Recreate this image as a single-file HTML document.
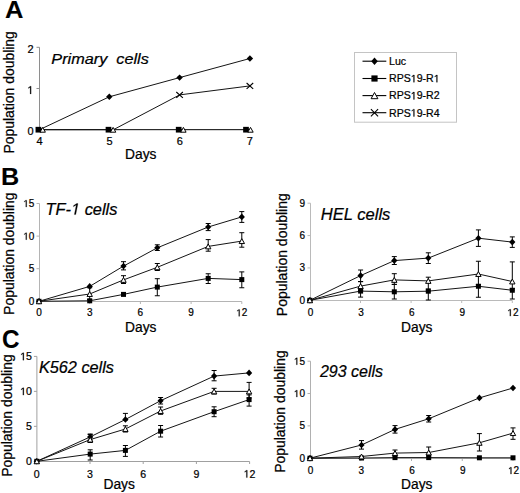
<!DOCTYPE html>
<html><head><meta charset="utf-8"><style>
html,body{margin:0;padding:0;background:#fff;}
body{width:520px;height:493px;overflow:hidden;}
svg{display:block;}
text{stroke:#000;stroke-width:0.22px;}
text[font-weight="bold"]{stroke-width:0.1px;}
</style></head><body>
<svg width="520" height="493" viewBox="0 0 520 493" font-family='"Liberation Sans", sans-serif' fill="#000">
<rect width="520" height="493" fill="#fff"/>
<text transform="translate(5.00 18.10) scale(1.04 1)" font-size="24.5" text-anchor="start" font-weight="bold">A</text>
<path d="M39.50 47.30V129.50" stroke="#8e8e8e" stroke-width="1" fill="none"/>
<path d="M36.50 129.70H39.50" stroke="#8e8e8e" stroke-width="1"/>
<text x="27.38" y="135.10" font-size="11" xml:space="preserve">0</text>
<path d="M36.50 88.50H39.50" stroke="#8e8e8e" stroke-width="1"/>
<path transform="translate(27.38 93.90) scale(0.00537 -0.00537)" d="M515 0L515 1237L197 1010L197 1180L530 1409L696 1409L696 0Z" fill="#000" stroke="#000" stroke-width="41.0"/>
<path d="M36.50 47.30H39.50" stroke="#8e8e8e" stroke-width="1"/>
<text x="27.38" y="52.70" font-size="11" xml:space="preserve">2</text>
<path d="M39.50 129.50H249.80" stroke="#8e8e8e" stroke-width="1" fill="none"/>
<path d="M39.50 129.50V132.00" stroke="#8e8e8e" stroke-width="1"/>
<text x="36.44" y="144.80" font-size="11" xml:space="preserve">4</text>
<path d="M109.60 129.50V132.00" stroke="#8e8e8e" stroke-width="1"/>
<text x="106.54" y="144.80" font-size="11" xml:space="preserve">5</text>
<path d="M179.70 129.50V132.00" stroke="#8e8e8e" stroke-width="1"/>
<text x="176.64" y="144.80" font-size="11" xml:space="preserve">6</text>
<path d="M249.80 129.50V132.00" stroke="#8e8e8e" stroke-width="1"/>
<text x="246.74" y="144.80" font-size="11" xml:space="preserve">7</text>
<text x="140.80" y="158.50" font-size="13.8" text-anchor="middle" font-weight="normal">Days</text>
<text transform="translate(13.70 153.60) rotate(-90) scale(1.0 1)" font-size="13.95">Population doubling</text>
<text transform="translate(51.30 63.90) scale(1.07 1)" font-size="15.2" text-anchor="start" font-weight="normal" font-style="italic">Primary&#160; cells</text>
<path d="M39.50 129.70L250.50 129.70" stroke="#151515" stroke-width="1.0" fill="none"/>
<path d="M39.50 129.70L109.30 96.80L179.60 77.60L249.90 58.50" stroke="#151515" stroke-width="1.0" fill="none"/>
<path d="M39.50 129.70L113.40 129.70L179.60 94.90L249.90 85.90" stroke="#151515" stroke-width="1.0" fill="none"/>
<rect x="35.55" y="126.85" width="5.70" height="5.70" fill="#000"/>
<path d="M42.70 127.40L45.40 132.20L40.00 132.20Z" fill="#fff" stroke="#000" stroke-width="1.0"/>
<rect x="105.65" y="126.85" width="5.70" height="5.70" fill="#000"/>
<path d="M113.10 127.40L115.80 132.20L110.40 132.20Z" fill="#fff" stroke="#000" stroke-width="1.0"/>
<rect x="175.85" y="126.85" width="5.70" height="5.70" fill="#000"/>
<path d="M183.40 127.40L186.10 132.20L180.70 132.20Z" fill="#fff" stroke="#000" stroke-width="1.0"/>
<rect x="243.15" y="126.85" width="5.70" height="5.70" fill="#000"/>
<path d="M250.50 127.40L253.20 132.20L247.80 132.20Z" fill="#fff" stroke="#000" stroke-width="1.0"/>
<path d="M109.30 93.60L112.50 96.80L109.30 100.00L106.10 96.80Z" fill="#000"/>
<path d="M179.60 74.40L182.80 77.60L179.60 80.80L176.40 77.60Z" fill="#000"/>
<path d="M249.90 55.30L253.10 58.50L249.90 61.70L246.70 58.50Z" fill="#000"/>
<path d="M176.30 92.00L182.90 97.80M182.90 92.00L176.30 97.80" stroke="#000" stroke-width="1.1" fill="none"/>
<path d="M246.60 83.00L253.20 88.80M253.20 83.00L246.60 88.80" stroke="#000" stroke-width="1.1" fill="none"/>
<rect x="354.5" y="52.5" width="102" height="69.7" fill="#fff" stroke="#c4c4c4" stroke-width="1"/>
<path d="M362.5 61.20H386.3" stroke="#000" stroke-width="1.1"/>
<path d="M374.50 57.50L377.80 61.20L374.50 64.90L371.20 61.20Z" fill="#000"/>
<text x="389.00" y="65.00" font-size="10.6" xml:space="preserve">Luc</text>
<path d="M362.5 78.50H386.3" stroke="#000" stroke-width="1.1"/>
<rect x="371.40" y="75.40" width="6.20" height="6.20" fill="#000"/>
<text x="389.00" y="82.30" font-size="10.6" xml:space="preserve">RPS</text>
<path transform="translate(410.80 82.30) scale(0.00518 -0.00518)" d="M515 0L515 1237L197 1010L197 1180L530 1409L696 1409L696 0Z" fill="#000" stroke="#000" stroke-width="42.5"/>
<text x="416.69" y="82.30" font-size="10.6" xml:space="preserve">9-R</text>
<path transform="translate(433.77 82.30) scale(0.00518 -0.00518)" d="M515 0L515 1237L197 1010L197 1180L530 1409L696 1409L696 0Z" fill="#000" stroke="#000" stroke-width="42.5"/>
<path d="M362.5 95.60H386.3" stroke="#000" stroke-width="1.1"/>
<path d="M374.50 92.50L377.90 98.70L371.10 98.70Z" fill="#fff" stroke="#000" stroke-width="1.0"/>
<text x="389.00" y="99.40" font-size="10.6" xml:space="preserve">RPS</text>
<path transform="translate(410.80 99.40) scale(0.00518 -0.00518)" d="M515 0L515 1237L197 1010L197 1180L530 1409L696 1409L696 0Z" fill="#000" stroke="#000" stroke-width="42.5"/>
<text x="416.69" y="99.40" font-size="10.6" xml:space="preserve">9-R2</text>
<path d="M362.5 112.70H386.3" stroke="#000" stroke-width="1.1"/>
<path d="M370.90 109.10L378.10 116.30M378.10 109.10L370.90 116.30" stroke="#000" stroke-width="1.1" fill="none"/>
<text x="389.00" y="116.50" font-size="10.6" xml:space="preserve">RPS</text>
<path transform="translate(410.80 116.50) scale(0.00518 -0.00518)" d="M515 0L515 1237L197 1010L197 1180L530 1409L696 1409L696 0Z" fill="#000" stroke="#000" stroke-width="42.5"/>
<text x="416.69" y="116.50" font-size="10.6" xml:space="preserve">9-R4</text>
<text transform="translate(1.00 184.70) scale(1.03 1)" font-size="24.5" text-anchor="start" font-weight="bold">B</text>
<path d="M39.50 203.50V301.50" stroke="#b4b4b4" stroke-width="1" fill="none"/>
<path d="M36.50 301.30H39.50" stroke="#b4b4b4" stroke-width="1"/>
<text x="28.84" y="304.85" font-size="10.0" xml:space="preserve">0</text>
<path d="M36.50 268.70H39.50" stroke="#b4b4b4" stroke-width="1"/>
<text x="28.84" y="272.25" font-size="10.0" xml:space="preserve">5</text>
<path d="M36.50 236.10H39.50" stroke="#b4b4b4" stroke-width="1"/>
<path transform="translate(23.28 239.65) scale(0.00488 -0.00488)" d="M515 0L515 1237L197 1010L197 1180L530 1409L696 1409L696 0Z" fill="#000" stroke="#000" stroke-width="45.1"/>
<text x="28.84" y="239.65" font-size="10.0" xml:space="preserve">0</text>
<path d="M36.50 203.50H39.50" stroke="#b4b4b4" stroke-width="1"/>
<path transform="translate(23.28 207.05) scale(0.00488 -0.00488)" d="M515 0L515 1237L197 1010L197 1180L530 1409L696 1409L696 0Z" fill="#000" stroke="#000" stroke-width="45.1"/>
<text x="28.84" y="207.05" font-size="10.0" xml:space="preserve">5</text>
<path d="M39.50 301.50H241.80" stroke="#b4b4b4" stroke-width="1" fill="none"/>
<path d="M39.00 301.50V304.00" stroke="#b4b4b4" stroke-width="1"/>
<text x="36.22" y="316.30" font-size="10.0" xml:space="preserve">0</text>
<path d="M89.70 301.50V304.00" stroke="#b4b4b4" stroke-width="1"/>
<text x="86.92" y="316.30" font-size="10.0" xml:space="preserve">3</text>
<path d="M140.40 301.50V304.00" stroke="#b4b4b4" stroke-width="1"/>
<text x="137.62" y="316.30" font-size="10.0" xml:space="preserve">6</text>
<path d="M191.10 301.50V304.00" stroke="#b4b4b4" stroke-width="1"/>
<text x="188.32" y="316.30" font-size="10.0" xml:space="preserve">9</text>
<path d="M241.80 301.50V304.00" stroke="#b4b4b4" stroke-width="1"/>
<path transform="translate(236.24 316.30) scale(0.00488 -0.00488)" d="M515 0L515 1237L197 1010L197 1180L530 1409L696 1409L696 0Z" fill="#000" stroke="#000" stroke-width="45.1"/>
<text x="241.80" y="316.30" font-size="10.0" xml:space="preserve">2</text>
<text x="140.80" y="331.50" font-size="13.8" text-anchor="middle" font-weight="normal">Days</text>
<text transform="translate(13.80 314.90) rotate(-90) scale(1.0 1)" font-size="13.95">Population doubling</text>
<text transform="translate(45.60 214.60) scale(1.023 1)" font-size="16" font-style="italic" xml:space="preserve">TF-</text>
<g transform="translate(71.05 214.60) scale(1.023 1)">
<path transform="translate(0.00 0.00) scale(0.00781 -0.00781)" d="M412 0L650 1223L289 1000L324 1180L701 1409L867 1409L593 0Z" fill="#000" stroke="#000" stroke-width="28.2"/>
</g>
<text transform="translate(80.15 214.60) scale(1.023 1)" font-size="16" font-style="italic" xml:space="preserve"> cells</text>
<path d="M123.50 261.70V269.90M121.00 261.70H126.00M121.00 269.90H126.00" stroke="#000" stroke-width="1" fill="none"/>
<path d="M157.30 244.80V250.50M154.80 244.80H159.80M154.80 250.50H159.80" stroke="#000" stroke-width="1" fill="none"/>
<path d="M208.20 223.50V230.60M205.70 223.50H210.70M205.70 230.60H210.70" stroke="#000" stroke-width="1" fill="none"/>
<path d="M241.80 211.60V222.40M239.30 211.60H244.30M239.30 222.40H244.30" stroke="#000" stroke-width="1" fill="none"/>
<path d="M39.00 301.30L89.70 286.40L123.50 266.10L157.30 247.80L208.20 227.00L241.80 216.90" stroke="#151515" stroke-width="1.0" fill="none"/>
<path d="M39.00 298.00L42.10 301.30L39.00 304.60L35.90 301.30Z" fill="#000"/>
<path d="M89.70 283.10L92.80 286.40L89.70 289.70L86.60 286.40Z" fill="#000"/>
<path d="M123.50 262.80L126.60 266.10L123.50 269.40L120.40 266.10Z" fill="#000"/>
<path d="M157.30 244.50L160.40 247.80L157.30 251.10L154.20 247.80Z" fill="#000"/>
<path d="M208.20 223.70L211.30 227.00L208.20 230.30L205.10 227.00Z" fill="#000"/>
<path d="M241.80 213.60L244.90 216.90L241.80 220.20L238.70 216.90Z" fill="#000"/>
<path d="M157.30 278.70V295.75M154.80 278.70H159.80M154.80 295.75H159.80" stroke="#000" stroke-width="1" fill="none"/>
<path d="M208.20 273.75V283.50M205.70 273.75H210.70M205.70 283.50H210.70" stroke="#000" stroke-width="1" fill="none"/>
<path d="M241.80 271.90V287.75M239.30 271.90H244.30M239.30 287.75H244.30" stroke="#000" stroke-width="1" fill="none"/>
<path d="M39.00 301.30L89.70 300.80L123.50 294.40L157.30 287.10L208.20 278.40L241.80 279.60" stroke="#151515" stroke-width="1.0" fill="none"/>
<rect x="36.50" y="298.80" width="5.00" height="5.00" fill="#000"/>
<rect x="87.20" y="298.30" width="5.00" height="5.00" fill="#000"/>
<rect x="121.00" y="291.90" width="5.00" height="5.00" fill="#000"/>
<rect x="154.80" y="284.60" width="5.00" height="5.00" fill="#000"/>
<rect x="205.70" y="275.90" width="5.00" height="5.00" fill="#000"/>
<rect x="239.30" y="277.10" width="5.00" height="5.00" fill="#000"/>
<path d="M89.70 287.80V299.50M87.20 287.80H92.20M87.20 299.50H92.20" stroke="#000" stroke-width="1" fill="none"/>
<path d="M123.50 275.70V283.50M121.00 275.70H126.00M121.00 283.50H126.00" stroke="#000" stroke-width="1" fill="none"/>
<path d="M157.30 263.50V270.50M154.80 263.50H159.80M154.80 270.50H159.80" stroke="#000" stroke-width="1" fill="none"/>
<path d="M208.20 239.60V251.20M205.70 239.60H210.70M205.70 251.20H210.70" stroke="#000" stroke-width="1" fill="none"/>
<path d="M241.80 232.70V247.20M239.30 232.70H244.30M239.30 247.20H244.30" stroke="#000" stroke-width="1" fill="none"/>
<path d="M39.00 301.30L89.70 294.00L123.50 279.90L157.30 267.30L208.20 246.40L241.80 241.10" stroke="#151515" stroke-width="1.0" fill="none"/>
<path d="M39.00 298.85L41.70 303.75L36.30 303.75Z" fill="#fff" stroke="#000" stroke-width="1.0"/>
<path d="M89.70 291.55L92.40 296.45L87.00 296.45Z" fill="#fff" stroke="#000" stroke-width="1.0"/>
<path d="M123.50 277.45L126.20 282.35L120.80 282.35Z" fill="#fff" stroke="#000" stroke-width="1.0"/>
<path d="M157.30 264.85L160.00 269.75L154.60 269.75Z" fill="#fff" stroke="#000" stroke-width="1.0"/>
<path d="M208.20 243.95L210.90 248.85L205.50 248.85Z" fill="#fff" stroke="#000" stroke-width="1.0"/>
<path d="M241.80 238.65L244.50 243.55L239.10 243.55Z" fill="#fff" stroke="#000" stroke-width="1.0"/>
<path d="M310.50 203.20V300.50" stroke="#bababa" stroke-width="1" fill="none"/>
<path d="M307.50 300.30H310.50" stroke="#bababa" stroke-width="1"/>
<text x="299.54" y="303.85" font-size="10.0" xml:space="preserve">0</text>
<path d="M307.50 267.93H310.50" stroke="#bababa" stroke-width="1"/>
<text x="299.54" y="271.48" font-size="10.0" xml:space="preserve">3</text>
<path d="M307.50 235.57H310.50" stroke="#bababa" stroke-width="1"/>
<text x="299.54" y="239.12" font-size="10.0" xml:space="preserve">6</text>
<path d="M307.50 203.20H310.50" stroke="#bababa" stroke-width="1"/>
<text x="299.54" y="206.75" font-size="10.0" xml:space="preserve">9</text>
<path d="M310.50 300.50H512.30" stroke="#bababa" stroke-width="1" fill="none"/>
<path d="M309.90 300.50V303.00" stroke="#bababa" stroke-width="1"/>
<text x="307.72" y="316.10" font-size="10.0" xml:space="preserve">0</text>
<path d="M360.50 300.50V303.00" stroke="#bababa" stroke-width="1"/>
<text x="358.32" y="316.10" font-size="10.0" xml:space="preserve">3</text>
<path d="M411.10 300.50V303.00" stroke="#bababa" stroke-width="1"/>
<text x="408.92" y="316.10" font-size="10.0" xml:space="preserve">6</text>
<path d="M461.70 300.50V303.00" stroke="#bababa" stroke-width="1"/>
<text x="459.52" y="316.10" font-size="10.0" xml:space="preserve">9</text>
<path d="M512.30 300.50V303.00" stroke="#bababa" stroke-width="1"/>
<path transform="translate(507.34 316.10) scale(0.00488 -0.00488)" d="M515 0L515 1237L197 1010L197 1180L530 1409L696 1409L696 0Z" fill="#000" stroke="#000" stroke-width="45.1"/>
<text x="512.90" y="316.10" font-size="10.0" xml:space="preserve">2</text>
<text x="416.80" y="331.50" font-size="13.8" text-anchor="middle" font-weight="normal">Days</text>
<text transform="translate(287.30 316.20) rotate(-90) scale(1.0 1)" font-size="14.0">Population doubling</text>
<text transform="translate(320.80 220.00) scale(1.035 1)" font-size="16" text-anchor="start" font-weight="normal" font-style="italic">HEL cells</text>
<path d="M360.60 270.00V281.50M358.10 270.00H363.10M358.10 281.50H363.10" stroke="#000" stroke-width="1" fill="none"/>
<path d="M394.30 256.60V264.50M391.80 256.60H396.80M391.80 264.50H396.80" stroke="#000" stroke-width="1" fill="none"/>
<path d="M428.30 252.80V263.50M425.80 252.80H430.80M425.80 263.50H430.80" stroke="#000" stroke-width="1" fill="none"/>
<path d="M478.40 229.90V246.40M475.90 229.90H480.90M475.90 246.40H480.90" stroke="#000" stroke-width="1" fill="none"/>
<path d="M512.30 236.90V247.40M509.80 236.90H514.80M509.80 247.40H514.80" stroke="#000" stroke-width="1" fill="none"/>
<path d="M309.90 300.30L360.60 275.60L394.30 260.60L428.30 258.10L478.40 238.20L512.30 242.10" stroke="#151515" stroke-width="1.0" fill="none"/>
<path d="M309.90 297.00L313.00 300.30L309.90 303.60L306.80 300.30Z" fill="#000"/>
<path d="M360.60 272.30L363.70 275.60L360.60 278.90L357.50 275.60Z" fill="#000"/>
<path d="M394.30 257.30L397.40 260.60L394.30 263.90L391.20 260.60Z" fill="#000"/>
<path d="M428.30 254.80L431.40 258.10L428.30 261.40L425.20 258.10Z" fill="#000"/>
<path d="M478.40 234.90L481.50 238.20L478.40 241.50L475.30 238.20Z" fill="#000"/>
<path d="M512.30 238.80L515.40 242.10L512.30 245.40L509.20 242.10Z" fill="#000"/>
<path d="M360.60 290.00V297.10M358.10 290.00H363.10M358.10 297.10H363.10" stroke="#000" stroke-width="1" fill="none"/>
<path d="M394.30 284.50V299.00M391.80 284.50H396.80M391.80 299.00H396.80" stroke="#000" stroke-width="1" fill="none"/>
<path d="M428.30 289.00V300.00M425.80 289.00H430.80M425.80 300.00H430.80" stroke="#000" stroke-width="1" fill="none"/>
<path d="M478.40 284.50V297.25M475.90 284.50H480.90M475.90 297.25H480.90" stroke="#000" stroke-width="1" fill="none"/>
<path d="M512.30 288.50V299.00M509.80 288.50H514.80M509.80 299.00H514.80" stroke="#000" stroke-width="1" fill="none"/>
<path d="M309.90 300.30L360.60 291.10L394.30 291.80L428.30 291.20L478.40 286.25L512.30 290.25" stroke="#151515" stroke-width="1.0" fill="none"/>
<rect x="307.40" y="297.80" width="5.00" height="5.00" fill="#000"/>
<rect x="358.10" y="288.60" width="5.00" height="5.00" fill="#000"/>
<rect x="391.80" y="289.30" width="5.00" height="5.00" fill="#000"/>
<rect x="425.80" y="288.70" width="5.00" height="5.00" fill="#000"/>
<rect x="475.90" y="283.75" width="5.00" height="5.00" fill="#000"/>
<rect x="509.80" y="287.75" width="5.00" height="5.00" fill="#000"/>
<path d="M360.60 281.70V290.50M358.10 281.70H363.10M358.10 290.50H363.10" stroke="#000" stroke-width="1" fill="none"/>
<path d="M394.30 273.70V284.30M391.80 273.70H396.80M391.80 284.30H396.80" stroke="#000" stroke-width="1" fill="none"/>
<path d="M428.30 277.20V291.00M425.80 277.20H430.80M425.80 291.00H430.80" stroke="#000" stroke-width="1" fill="none"/>
<path d="M478.40 261.25V286.00M475.90 261.25H480.90M475.90 286.00H480.90" stroke="#000" stroke-width="1" fill="none"/>
<path d="M512.30 261.90V290.00M509.80 261.90H514.80M509.80 290.00H514.80" stroke="#000" stroke-width="1" fill="none"/>
<path d="M309.90 300.30L360.60 286.10L394.30 279.90L428.30 280.90L478.40 274.00L512.30 281.50" stroke="#151515" stroke-width="1.0" fill="none"/>
<path d="M309.90 297.85L312.60 302.75L307.20 302.75Z" fill="#fff" stroke="#000" stroke-width="1.0"/>
<path d="M360.60 283.65L363.30 288.55L357.90 288.55Z" fill="#fff" stroke="#000" stroke-width="1.0"/>
<path d="M394.30 277.45L397.00 282.35L391.60 282.35Z" fill="#fff" stroke="#000" stroke-width="1.0"/>
<path d="M428.30 278.45L431.00 283.35L425.60 283.35Z" fill="#fff" stroke="#000" stroke-width="1.0"/>
<path d="M478.40 271.55L481.10 276.45L475.70 276.45Z" fill="#fff" stroke="#000" stroke-width="1.0"/>
<path d="M512.30 279.05L515.00 283.95L509.60 283.95Z" fill="#fff" stroke="#000" stroke-width="1.0"/>
<text transform="translate(1.90 347.60) scale(0.97 1)" font-size="25" text-anchor="start" font-weight="bold">C</text>
<path d="M36.90 356.40V461.50" stroke="#a0a0a0" stroke-width="1" fill="none"/>
<path d="M33.90 461.30H36.90" stroke="#a0a0a0" stroke-width="1"/>
<text x="26.10" y="465.05" font-size="10.6" xml:space="preserve">0</text>
<path d="M33.90 426.33H36.90" stroke="#a0a0a0" stroke-width="1"/>
<text x="26.10" y="430.08" font-size="10.6" xml:space="preserve">5</text>
<path d="M33.90 391.37H36.90" stroke="#a0a0a0" stroke-width="1"/>
<path transform="translate(20.21 395.12) scale(0.00518 -0.00518)" d="M515 0L515 1237L197 1010L197 1180L530 1409L696 1409L696 0Z" fill="#000" stroke="#000" stroke-width="42.5"/>
<text x="26.10" y="395.12" font-size="10.6" xml:space="preserve">0</text>
<path d="M33.90 356.40H36.90" stroke="#a0a0a0" stroke-width="1"/>
<path transform="translate(20.21 360.15) scale(0.00518 -0.00518)" d="M515 0L515 1237L197 1010L197 1180L530 1409L696 1409L696 0Z" fill="#000" stroke="#000" stroke-width="42.5"/>
<text x="26.10" y="360.15" font-size="10.6" xml:space="preserve">5</text>
<path d="M36.90 461.50H249.60" stroke="#a0a0a0" stroke-width="1" fill="none"/>
<path d="M36.80 461.50V464.00" stroke="#a0a0a0" stroke-width="1"/>
<text x="33.85" y="477.60" font-size="10.6" xml:space="preserve">0</text>
<path d="M90.00 461.50V464.00" stroke="#a0a0a0" stroke-width="1"/>
<text x="87.05" y="477.60" font-size="10.6" xml:space="preserve">3</text>
<path d="M143.20 461.50V464.00" stroke="#a0a0a0" stroke-width="1"/>
<text x="140.25" y="477.60" font-size="10.6" xml:space="preserve">6</text>
<path d="M196.40 461.50V464.00" stroke="#a0a0a0" stroke-width="1"/>
<text x="193.45" y="477.60" font-size="10.6" xml:space="preserve">9</text>
<path d="M249.60 461.50V464.00" stroke="#a0a0a0" stroke-width="1"/>
<path transform="translate(243.70 477.60) scale(0.00518 -0.00518)" d="M515 0L515 1237L197 1010L197 1180L530 1409L696 1409L696 0Z" fill="#000" stroke="#000" stroke-width="42.5"/>
<text x="249.60" y="477.60" font-size="10.6" xml:space="preserve">2</text>
<text x="119.20" y="488.50" font-size="13.8" text-anchor="middle" font-weight="normal">Days</text>
<text transform="translate(11.70 476.80) rotate(-90) scale(1.0 1)" font-size="13.95">Population doubling</text>
<text transform="translate(38.90 373.20) scale(1.017 1)" font-size="16" text-anchor="start" font-weight="normal" font-style="italic">K562 cells</text>
<path d="M90.20 434.00V440.00M87.70 434.00H92.70M87.70 440.00H92.70" stroke="#000" stroke-width="1" fill="none"/>
<path d="M125.40 413.40V420.00M122.90 413.40H127.90M122.90 420.00H127.90" stroke="#000" stroke-width="1" fill="none"/>
<path d="M160.60 397.50V404.00M158.10 397.50H163.10M158.10 404.00H163.10" stroke="#000" stroke-width="1" fill="none"/>
<path d="M214.10 370.50V380.80M211.60 370.50H216.60M211.60 380.80H216.60" stroke="#000" stroke-width="1" fill="none"/>
<path d="M36.80 461.30L90.20 436.90L125.40 419.50L160.60 400.70L214.10 376.10L249.10 372.90" stroke="#151515" stroke-width="1.0" fill="none"/>
<path d="M36.80 458.00L39.90 461.30L36.80 464.60L33.70 461.30Z" fill="#000"/>
<path d="M90.20 433.60L93.30 436.90L90.20 440.20L87.10 436.90Z" fill="#000"/>
<path d="M125.40 416.20L128.50 419.50L125.40 422.80L122.30 419.50Z" fill="#000"/>
<path d="M160.60 397.40L163.70 400.70L160.60 404.00L157.50 400.70Z" fill="#000"/>
<path d="M214.10 372.80L217.20 376.10L214.10 379.40L211.00 376.10Z" fill="#000"/>
<path d="M249.10 369.60L252.20 372.90L249.10 376.20L246.00 372.90Z" fill="#000"/>
<path d="M90.20 449.80V460.00M87.70 449.80H92.70M87.70 460.00H92.70" stroke="#000" stroke-width="1" fill="none"/>
<path d="M125.40 445.50V456.40M122.90 445.50H127.90M122.90 456.40H127.90" stroke="#000" stroke-width="1" fill="none"/>
<path d="M160.60 425.50V437.00M158.10 425.50H163.10M158.10 437.00H163.10" stroke="#000" stroke-width="1" fill="none"/>
<path d="M214.10 406.80V416.70M211.60 406.80H216.60M211.60 416.70H216.60" stroke="#000" stroke-width="1" fill="none"/>
<path d="M249.10 394.90V406.10M246.60 394.90H251.60M246.60 406.10H251.60" stroke="#000" stroke-width="1" fill="none"/>
<path d="M36.80 461.30L90.20 454.10L125.40 450.40L160.60 431.20L214.10 411.70L249.10 399.60" stroke="#151515" stroke-width="1.0" fill="none"/>
<rect x="34.30" y="458.80" width="5.00" height="5.00" fill="#000"/>
<rect x="87.70" y="451.60" width="5.00" height="5.00" fill="#000"/>
<rect x="122.90" y="447.90" width="5.00" height="5.00" fill="#000"/>
<rect x="158.10" y="428.70" width="5.00" height="5.00" fill="#000"/>
<rect x="211.60" y="409.20" width="5.00" height="5.00" fill="#000"/>
<rect x="246.60" y="397.10" width="5.00" height="5.00" fill="#000"/>
<path d="M90.20 434.50V442.50M87.70 434.50H92.70M87.70 442.50H92.70" stroke="#000" stroke-width="1" fill="none"/>
<path d="M125.40 425.80V432.00M122.90 425.80H127.90M122.90 432.00H127.90" stroke="#000" stroke-width="1" fill="none"/>
<path d="M160.60 407.00V414.30M158.10 407.00H163.10M158.10 414.30H163.10" stroke="#000" stroke-width="1" fill="none"/>
<path d="M214.10 388.30V394.00M211.60 388.30H216.60M211.60 394.00H216.60" stroke="#000" stroke-width="1" fill="none"/>
<path d="M249.10 382.40V398.00M246.60 382.40H251.60M246.60 398.00H251.60" stroke="#000" stroke-width="1" fill="none"/>
<path d="M36.80 461.30L90.20 439.60L125.40 429.00L160.60 411.00L214.10 391.40L249.10 391.40" stroke="#151515" stroke-width="1.0" fill="none"/>
<path d="M36.80 458.85L39.50 463.75L34.10 463.75Z" fill="#fff" stroke="#000" stroke-width="1.0"/>
<path d="M90.20 437.15L92.90 442.05L87.50 442.05Z" fill="#fff" stroke="#000" stroke-width="1.0"/>
<path d="M125.40 426.55L128.10 431.45L122.70 431.45Z" fill="#fff" stroke="#000" stroke-width="1.0"/>
<path d="M160.60 408.55L163.30 413.45L157.90 413.45Z" fill="#fff" stroke="#000" stroke-width="1.0"/>
<path d="M214.10 388.95L216.80 393.85L211.40 393.85Z" fill="#fff" stroke="#000" stroke-width="1.0"/>
<path d="M249.10 388.95L251.80 393.85L246.40 393.85Z" fill="#fff" stroke="#000" stroke-width="1.0"/>
<path d="M310.50 361.20V458.50" stroke="#b0b0b0" stroke-width="1" fill="none"/>
<path d="M307.50 458.20H310.50" stroke="#b0b0b0" stroke-width="1"/>
<text x="299.44" y="461.75" font-size="10.0" xml:space="preserve">0</text>
<path d="M307.50 425.87H310.50" stroke="#b0b0b0" stroke-width="1"/>
<text x="299.44" y="429.42" font-size="10.0" xml:space="preserve">5</text>
<path d="M307.50 393.53H310.50" stroke="#b0b0b0" stroke-width="1"/>
<path transform="translate(293.88 397.08) scale(0.00488 -0.00488)" d="M515 0L515 1237L197 1010L197 1180L530 1409L696 1409L696 0Z" fill="#000" stroke="#000" stroke-width="45.1"/>
<text x="299.44" y="397.08" font-size="10.0" xml:space="preserve">0</text>
<path d="M307.50 361.20H310.50" stroke="#b0b0b0" stroke-width="1"/>
<path transform="translate(293.88 364.75) scale(0.00488 -0.00488)" d="M515 0L515 1237L197 1010L197 1180L530 1409L696 1409L696 0Z" fill="#000" stroke="#000" stroke-width="45.1"/>
<text x="299.44" y="364.75" font-size="10.0" xml:space="preserve">5</text>
<path d="M310.50 458.50H513.00" stroke="#b0b0b0" stroke-width="1" fill="none"/>
<path d="M310.00 458.50V461.00" stroke="#b0b0b0" stroke-width="1"/>
<text x="307.82" y="474.10" font-size="10.0" xml:space="preserve">0</text>
<path d="M360.75 458.50V461.00" stroke="#b0b0b0" stroke-width="1"/>
<text x="358.57" y="474.10" font-size="10.0" xml:space="preserve">3</text>
<path d="M411.50 458.50V461.00" stroke="#b0b0b0" stroke-width="1"/>
<text x="409.32" y="474.10" font-size="10.0" xml:space="preserve">6</text>
<path d="M462.25 458.50V461.00" stroke="#b0b0b0" stroke-width="1"/>
<text x="460.07" y="474.10" font-size="10.0" xml:space="preserve">9</text>
<path d="M513.00 458.50V461.00" stroke="#b0b0b0" stroke-width="1"/>
<path transform="translate(508.04 474.10) scale(0.00488 -0.00488)" d="M515 0L515 1237L197 1010L197 1180L530 1409L696 1409L696 0Z" fill="#000" stroke="#000" stroke-width="45.1"/>
<text x="513.60" y="474.10" font-size="10.0" xml:space="preserve">2</text>
<text x="416.80" y="488.50" font-size="13.8" text-anchor="middle" font-weight="normal">Days</text>
<text transform="translate(284.90 472.80) rotate(-90) scale(1.0 1)" font-size="13.95">Population doubling</text>
<text x="319.90" y="377.00" font-size="16" text-anchor="start" font-weight="normal" font-style="italic">293 cells</text>
<path d="M361.50 440.60V449.10M359.00 440.60H364.00M359.00 449.10H364.00" stroke="#000" stroke-width="1" fill="none"/>
<path d="M395.00 425.60V433.10M392.50 425.60H397.50M392.50 433.10H397.50" stroke="#000" stroke-width="1" fill="none"/>
<path d="M428.70 415.50V422.00M426.20 415.50H431.20M426.20 422.00H431.20" stroke="#000" stroke-width="1" fill="none"/>
<path d="M310.00 458.20L361.50 445.00L395.00 429.40L428.70 418.75L479.40 397.90L513.00 388.00" stroke="#151515" stroke-width="1.0" fill="none"/>
<path d="M310.00 454.90L313.10 458.20L310.00 461.50L306.90 458.20Z" fill="#000"/>
<path d="M361.50 441.70L364.60 445.00L361.50 448.30L358.40 445.00Z" fill="#000"/>
<path d="M395.00 426.10L398.10 429.40L395.00 432.70L391.90 429.40Z" fill="#000"/>
<path d="M428.70 415.45L431.80 418.75L428.70 422.05L425.60 418.75Z" fill="#000"/>
<path d="M479.40 394.60L482.50 397.90L479.40 401.20L476.30 397.90Z" fill="#000"/>
<path d="M513.00 384.70L516.10 388.00L513.00 391.30L509.90 388.00Z" fill="#000"/>
<path d="M310.00 458.20L361.50 458.00L395.00 457.60L428.70 457.60L479.40 457.80L513.00 457.80" stroke="#151515" stroke-width="1.0" fill="none"/>
<rect x="307.50" y="455.70" width="5.00" height="5.00" fill="#000"/>
<rect x="359.00" y="455.50" width="5.00" height="5.00" fill="#000"/>
<rect x="392.50" y="455.10" width="5.00" height="5.00" fill="#000"/>
<rect x="426.20" y="455.10" width="5.00" height="5.00" fill="#000"/>
<rect x="476.90" y="455.30" width="5.00" height="5.00" fill="#000"/>
<rect x="510.50" y="455.30" width="5.00" height="5.00" fill="#000"/>
<path d="M395.00 450.00V456.00M392.50 450.00H397.50M392.50 456.00H397.50" stroke="#000" stroke-width="1" fill="none"/>
<path d="M428.70 447.00V456.00M426.20 447.00H431.20M426.20 456.00H431.20" stroke="#000" stroke-width="1" fill="none"/>
<path d="M479.40 433.60V451.00M476.90 433.60H481.90M476.90 451.00H481.90" stroke="#000" stroke-width="1" fill="none"/>
<path d="M513.00 427.90V439.30M510.50 427.90H515.50M510.50 439.30H515.50" stroke="#000" stroke-width="1" fill="none"/>
<path d="M310.00 458.20L361.50 456.50L395.00 453.10L428.70 452.50L479.40 442.80L513.00 433.10" stroke="#151515" stroke-width="1.0" fill="none"/>
<path d="M310.00 455.75L312.70 460.65L307.30 460.65Z" fill="#fff" stroke="#000" stroke-width="1.0"/>
<path d="M361.50 454.05L364.20 458.95L358.80 458.95Z" fill="#fff" stroke="#000" stroke-width="1.0"/>
<path d="M395.00 450.65L397.70 455.55L392.30 455.55Z" fill="#fff" stroke="#000" stroke-width="1.0"/>
<path d="M428.70 450.05L431.40 454.95L426.00 454.95Z" fill="#fff" stroke="#000" stroke-width="1.0"/>
<path d="M479.40 440.35L482.10 445.25L476.70 445.25Z" fill="#fff" stroke="#000" stroke-width="1.0"/>
<path d="M513.00 430.65L515.70 435.55L510.30 435.55Z" fill="#fff" stroke="#000" stroke-width="1.0"/>
</svg>
</body></html>
